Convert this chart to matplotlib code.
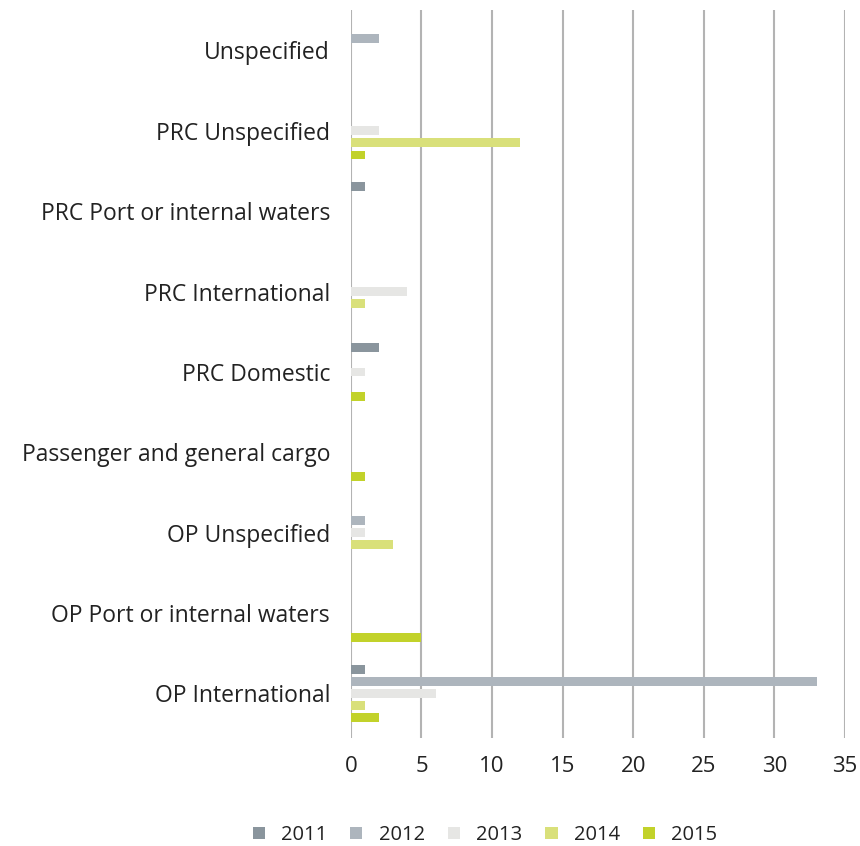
import matplotlib
matplotlib.use('Agg')
import matplotlib.pyplot as plt
import numpy as np

plt.rcParams['font.family'] = ['Open Sans', 'DejaVu Sans']

# categories, bottom to top
categories = ['OP International', 'OP Port or internal waters', 'OP Unspecified',
              'Passenger and general cargo', 'PRC Domestic', 'PRC International',
              'PRC Port or internal waters', 'PRC Unspecified', 'Unspecified']
years = ['2011', '2012', '2013', '2014', '2015']

v2011 = [1, 0, 0, 0, 2, 0, 1, 0, 0]
v2012 = [33, 0, 1, 0, 0, 0, 0, 0, 2]
v2013 = [6, 0, 1, 0, 1, 4, 0, 2, 0]
v2014 = [1, 0, 3, 0, 0, 1, 0, 12, 0]
v2015 = [2, 5, 0, 1, 1, 0, 0, 1, 0]
series = [v2011, v2012, v2013, v2014, v2015]

colors = ['#8a959d', '#adb5bd', '#e6e6e4', '#d9e07a', '#c2d22a']

fig = plt.figure(figsize=(8.6, 8.46), dpi=100)
ax = fig.add_axes([0.408, 0.128, 0.5746, 0.86])

y = np.arange(len(categories))
step = 0.151
for i, (vals, c, yr) in enumerate(zip(series, colors, years)):
    ax.barh(y + (2 - i) * step, vals, height=0.11, color=c, edgecolor='none',
            label=yr, zorder=3)

ax.set_xlim(0, 35)
ax.set_ylim(-0.55, 8.5)
ax.set_xticks(np.arange(0, 36, 5))
ax.set_yticks(y)
ax.set_yticklabels(categories)
ax.grid(axis='x', color='#b3b3b3', linewidth=1.5, zorder=0)
ax.grid(axis='y', visible=False)
for s in ax.spines.values():
    s.set_visible(False)
ax.tick_params(axis='both', length=0, labelsize=16, colors='#222222')
ax.tick_params(axis='y', labelsize=16.5, pad=15)
ax.tick_params(axis='x', pad=13)

handles, labels = ax.get_legend_handles_labels()
fig.legend(handles, labels, loc='center', bbox_to_anchor=(0.564, 0.013), ncol=5,
           frameon=False, fontsize=14.5, handlelength=0.6, handleheight=0.6,
           columnspacing=1.15, handletextpad=0.8, labelcolor='#222222')

fig.savefig('out.png', dpi=100)
